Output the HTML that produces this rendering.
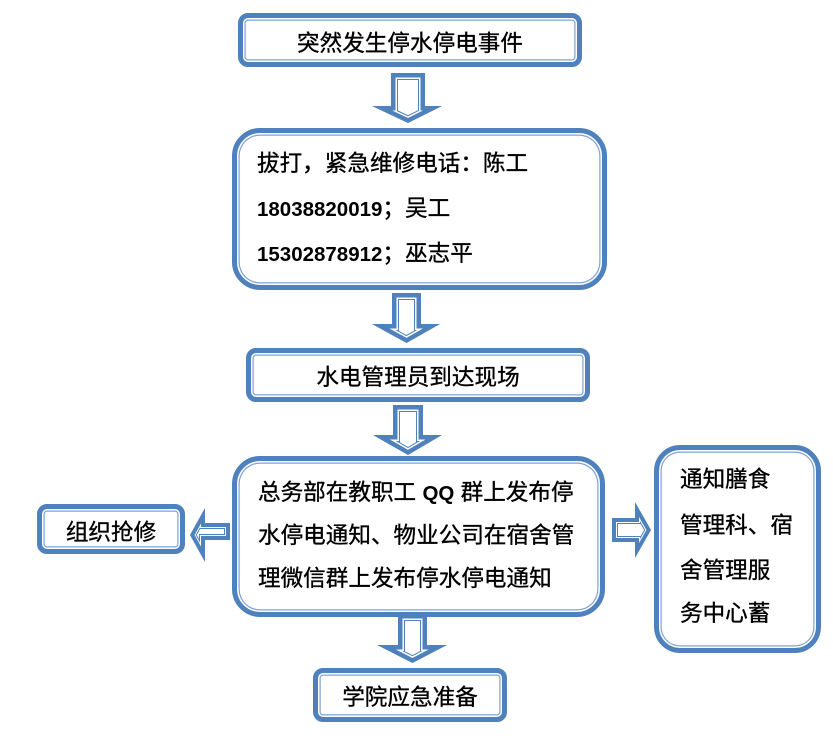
<!DOCTYPE html>
<html>
<head>
<meta charset="utf-8">
<style>
html,body{margin:0;padding:0;background:#fff;}
body{width:833px;height:749px;position:relative;overflow:hidden;font-family:"Liberation Sans","Noto Sans CJK SC",sans-serif;color:#000;}
.box{position:absolute;box-sizing:border-box;border:5px solid #4f81bd;background:#fff;box-shadow:inset 0 0 0 1.5px #fff, inset 0 0 0 2.7px #7ea3d3;}
.t{position:absolute;height:30px;line-height:30px;font-size:22.6px;white-space:nowrap;-webkit-text-stroke:0.35px #000;}
.c{text-align:center;}
b{font-family:"Liberation Sans",sans-serif;font-weight:bold;font-size:20.5px;-webkit-text-stroke:0;}
svg{position:absolute;left:0;top:0;}
</style>
</head>
<body>
<svg width="833" height="749" viewBox="0 0 833 749">
<defs>
<clipPath id="a1"><polygon id="p1" points="391,73 425,73 425,106 442,106 408,123 372,106 391,106"/></clipPath>
<clipPath id="a2"><polygon id="p2" points="392,293 421,293 421,324 440,324 406.5,343 372,324 392,324"/></clipPath>
<clipPath id="a3"><polygon id="p3" points="393,405 423,405 423,435 442,435 408,455 373,435 393,435"/></clipPath>
<clipPath id="a4"><polygon id="p4" points="398,614 427,614 427,645 447,645 412.5,663 377,645 398,645"/></clipPath>
<clipPath id="a5"><polygon id="p5" points="230,523 230,540 205,540 205,562 190,535 205,508 205,523"/></clipPath>
<clipPath id="a6"><polygon id="p6" points="612,518 635,518 635,502 651,530 635,558 635,542 612,542"/></clipPath>
</defs>
<g stroke-linejoin="miter" stroke-miterlimit="10">
<g clip-path="url(#a1)"><use href="#p1" fill="#fff" stroke="#4f81bd" stroke-width="14"/><use href="#p1" fill="none" stroke="#fff" stroke-width="12"/><use href="#p1" fill="none" stroke="#4f81bd" stroke-width="9"/></g>
<g clip-path="url(#a2)"><use href="#p2" fill="#fff" stroke="#4f81bd" stroke-width="14"/><use href="#p2" fill="none" stroke="#fff" stroke-width="12"/><use href="#p2" fill="none" stroke="#4f81bd" stroke-width="9"/></g>
<g clip-path="url(#a3)"><use href="#p3" fill="#fff" stroke="#4f81bd" stroke-width="14"/><use href="#p3" fill="none" stroke="#fff" stroke-width="12"/><use href="#p3" fill="none" stroke="#4f81bd" stroke-width="9"/></g>
<g clip-path="url(#a4)"><use href="#p4" fill="#fff" stroke="#4f81bd" stroke-width="14"/><use href="#p4" fill="none" stroke="#fff" stroke-width="12"/><use href="#p4" fill="none" stroke="#4f81bd" stroke-width="9"/></g>
<g clip-path="url(#a5)"><use href="#p5" fill="#fff" stroke="#4f81bd" stroke-width="12"/><use href="#p5" fill="none" stroke="#fff" stroke-width="10"/><use href="#p5" fill="none" stroke="#4f81bd" stroke-width="8"/></g>
<g clip-path="url(#a6)"><use href="#p6" fill="#fff" stroke="#4f81bd" stroke-width="12"/><use href="#p6" fill="none" stroke="#fff" stroke-width="10"/><use href="#p6" fill="none" stroke="#4f81bd" stroke-width="8"/></g>
</g>
</svg>

<!-- Box 1 -->
<div class="box" style="left:238px;top:13px;width:344px;height:54px;border-radius:10px;"></div>
<div class="t c" style="left:238px;width:344px;top:29px;">突然发生停水停电事件</div>

<!-- Box 2 -->
<div class="box" style="left:232px;top:128px;width:375px;height:162px;border-radius:28px;"></div>
<div class="t" style="left:257px;top:149px;">拔打，紧急维修电话：陈工</div>
<div class="t" style="left:257px;top:194px;"><b>18038820019</b>；吴工</div>
<div class="t" style="left:257px;top:239px;"><b>15302878912</b>；巫志平</div>

<!-- Box 3 -->
<div class="box" style="left:246px;top:348px;width:344px;height:54px;border-radius:10px;"></div>
<div class="t c" style="left:246px;width:344px;top:363px;">水电管理员到达现场</div>

<!-- Box 4 -->
<div class="box" style="left:232px;top:456px;width:373px;height:161px;border-radius:28px;"></div>
<div class="t" style="left:258px;top:478px;">总务部在教职工 <b>QQ</b> 群上发布停</div>
<div class="t" style="left:258px;top:521px;">水停电通知、物业公司在宿舍管</div>
<div class="t" style="left:258px;top:564px;">理微信群上发布停水停电通知</div>

<!-- Left box -->
<div class="box" style="left:37px;top:504px;width:148px;height:50px;border-radius:10px;"></div>
<div class="t c" style="left:37px;width:148px;top:518px;">组织抢修</div>

<!-- Right box -->
<div class="box" style="left:654px;top:445px;width:167px;height:208px;border-radius:26px;"></div>
<div class="t" style="left:680px;top:465px;">通知膳食</div>
<div class="t" style="left:680px;top:511px;">管理科、宿</div>
<div class="t" style="left:680px;top:556px;">舍管理服</div>
<div class="t" style="left:680px;top:599px;">务中心蓄</div>

<!-- Bottom box -->
<div class="box" style="left:313px;top:668px;width:194px;height:54px;border-radius:10px;"></div>
<div class="t c" style="left:313px;width:194px;top:683px;">学院应急准备</div>
</body>
</html>
